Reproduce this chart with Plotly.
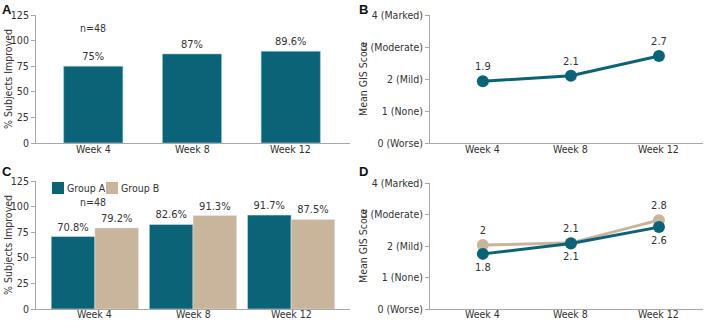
import plotly.graph_objects as go

weeks = ["Week 4", "Week 8", "Week 12"]
a_pct = [75, 87, 89.6]
a_labels = ["75%", "87%", "89.6%"]
b_score = [1.93, 2.1, 2.72]
b_labels = ["1.9", "2.1", "2.7"]
c_groupA = [70.8, 82.6, 91.7]
c_groupB = [79.2, 91.3, 87.5]
c_labelsA = ["70.8%", "82.6%", "91.7%"]
c_labelsB = ["79.2%", "91.3%", "87.5%"]
d_groupA = [1.75, 2.08, 2.6]
d_groupB = [2.03, 2.1, 2.82]
d_labelsA = ["1.8", "2.1", "2.6"]
d_labelsB = ["2", "2.1", "2.8"]
gis_ticks = [0, 1, 2, 3, 4]
gis_labels = ["0 (Worse)", "1 (None)", "2 (Mild)", "3 (Moderate)", "4 (Marked)"]
pct_ticks = [0, 25, 50, 75, 100, 125]
group_names = ["Group A", "Group B"]
pct_title = "% Subjects Improved"
gis_title = "Mean GIS Score"

TEAL = "#0b6378"
TAN = "#c8b59b"
TXT = "#333333"
AX = "#a8a8a8"
FONT = "Liberation Sans Narrow, DejaVu Sans Condensed, Roboto, Arial"
FS = 10

W, H = 709, 321
def xd(l, r):
    return [l / W, r / W]
def yd(t, b):
    return [1 - b / H, 1 - t / H]

fig = go.Figure()

# Panel A
fig.add_trace(go.Bar(x=weeks, y=a_pct, text=a_labels, textposition="outside",
                     marker=dict(color=TEAL, line=dict(color="#9fd3df", width=0.6)),
                     width=0.6, cliponaxis=False, showlegend=False,
                     textfont=dict(size=FS + 1, color=TXT), xaxis="x", yaxis="y"))
# Panel B
fig.add_trace(go.Scatter(x=weeks, y=b_score, text=b_labels, mode="lines+markers+text",
                         textposition="top center", line=dict(color=TEAL, width=3),
                         marker=dict(color=TEAL, size=12), showlegend=False,
                         textfont=dict(size=FS + 1, color=TXT), xaxis="x2", yaxis="y2",
                         cliponaxis=False))
# Panel C
fig.add_trace(go.Bar(x=weeks, y=c_groupA, text=c_labelsA, textposition="outside",
                     name=group_names[0], marker=dict(color=TEAL), width=0.445, offset=-0.445,
                     cliponaxis=False, textfont=dict(size=FS + 1, color=TXT), showlegend=False,
                     xaxis="x3", yaxis="y3"))
fig.add_trace(go.Bar(x=weeks, y=c_groupB, text=c_labelsB, textposition="outside",
                     name=group_names[1], marker=dict(color=TAN), width=0.445, offset=0,
                     cliponaxis=False, textfont=dict(size=FS + 1, color=TXT), showlegend=False,
                     xaxis="x3", yaxis="y3"))
# Panel D
fig.add_trace(go.Scatter(x=weeks, y=d_groupB, text=d_labelsB, mode="lines+markers+text",
                         textposition="top center", line=dict(color=TAN, width=3),
                         marker=dict(color=TAN, size=12), showlegend=False,
                         textfont=dict(size=FS + 1, color=TXT), xaxis="x4", yaxis="y4",
                         cliponaxis=False))
fig.add_trace(go.Scatter(x=weeks, y=d_groupA, text=d_labelsA, mode="lines+markers+text",
                         textposition="bottom center", line=dict(color=TEAL, width=3),
                         marker=dict(color=TEAL, size=12), showlegend=False,
                         textfont=dict(size=FS + 1, color=TXT), xaxis="x4", yaxis="y4",
                         cliponaxis=False))

xcommon = dict(type="category", showgrid=False, showline=True, linecolor=AX, linewidth=1,
               ticks="", showticklabels=False, zeroline=False, automargin=False)
ycommon = dict(showgrid=False, showline=True, linecolor=AX, linewidth=1, ticks="outside",
               ticklen=4, tickcolor=AX, tickfont=dict(size=FS + 0.5, color=TXT), zeroline=False,
               automargin=False)

fig.update_layout(
    width=W, height=H, margin=dict(l=0, r=0, t=0, b=0, autoexpand=False),
    paper_bgcolor="white", plot_bgcolor="white",
    font=dict(family=FONT, color=TXT, size=FS),
    xaxis=dict(xcommon, domain=xd(36, 350), range=[-0.58, 2.6], anchor="y"),
    yaxis=dict(ycommon, domain=yd(15, 143), range=[0, 125], tickvals=pct_ticks, anchor="x"),
    xaxis2=dict(xcommon, domain=xd(430, 703), range=[-0.6, 2.5], anchor="y2"),
    yaxis2=dict(ycommon, domain=yd(15, 143), range=[0, 4], tickvals=gis_ticks, ticktext=gis_labels,
                anchor="x2"),
    xaxis3=dict(xcommon, domain=xd(36, 350), range=[-0.6, 2.6], anchor="y3"),
    yaxis3=dict(ycommon, domain=yd(181, 309), range=[0, 125], tickvals=pct_ticks, anchor="x3"),
    xaxis4=dict(xcommon, domain=xd(430, 703), range=[-0.6, 2.5], anchor="y4"),
    yaxis4=dict(ycommon, domain=yd(183, 309), range=[0, 4], tickvals=gis_ticks, ticktext=gis_labels,
                anchor="x4"),
    showlegend=False,
)

# x tick labels placed close under each axis line
for xa, ybot, sh in [("x", 143, -6), ("x2", 143, -6), ("x3", 309, -5), ("x4", 309, -5)]:
    for wk in weeks:
        fig.add_annotation(xref=xa, yref="paper", x=wk, y=1 - ybot / H, text=wk,
                           yanchor="middle", yshift=sh, showarrow=False,
                           font=dict(size=FS + 0.5, color=TXT))

# y-axis titles
for xp, yc, t in [(8, 79, pct_title), (363, 79, gis_title), (8, 245, pct_title), (363, 246, gis_title)]:
    fig.add_annotation(xref="paper", yref="paper", x=xp / W, y=1 - yc / H, text=t,
                       textangle=-90, showarrow=False, xanchor="center", yanchor="middle",
                       font=dict(size=FS + 0.5, color=TXT))

annots = [
    dict(text="<b>A</b>", x=0 / W, y=1 - 0 / H),
    dict(text="<b>B</b>", x=357 / W, y=1 - 0 / H),
    dict(text="<b>C</b>", x=0 / W, y=1 - 162 / H),
    dict(text="<b>D</b>", x=357 / W, y=1 - 162 / H),
]
for a in annots:
    fig.add_annotation(xref="paper", yref="paper", xanchor="left", yanchor="top",
                       showarrow=False, font=dict(size=13, color="#111", family="Liberation Sans, Arial"), **a)
fig.add_annotation(xref="x", yref="y", x="Week 4", y=112, text="n=48", showarrow=False,
                   font=dict(size=FS + 0.5, color=TXT))
fig.add_annotation(xref="x3", yref="y3", x="Week 4", y=104, text="n=48", showarrow=False,
                   font=dict(size=FS + 0.5, color=TXT), xshift=-2)

# legend for panel C (swatch + label)
leg = [(52, 64, 65, group_names[0], TEAL), (106, 118, 119, group_names[1], TAN)]
for x0, x1, xt, name, col in leg:
    fig.add_shape(type="rect", xref="paper", yref="paper", x0=x0 / W, x1=x1 / W,
                  y0=1 - 194 / H, y1=1 - 182 / H, fillcolor=col, line=dict(width=0))
    fig.add_annotation(xref="paper", yref="paper", x=xt / W, y=1 - 188 / H, text=name,
                       xanchor="left", yanchor="middle", showarrow=False,
                       font=dict(size=FS + 0.5, color=TXT))

fig.write_html("out.html")
